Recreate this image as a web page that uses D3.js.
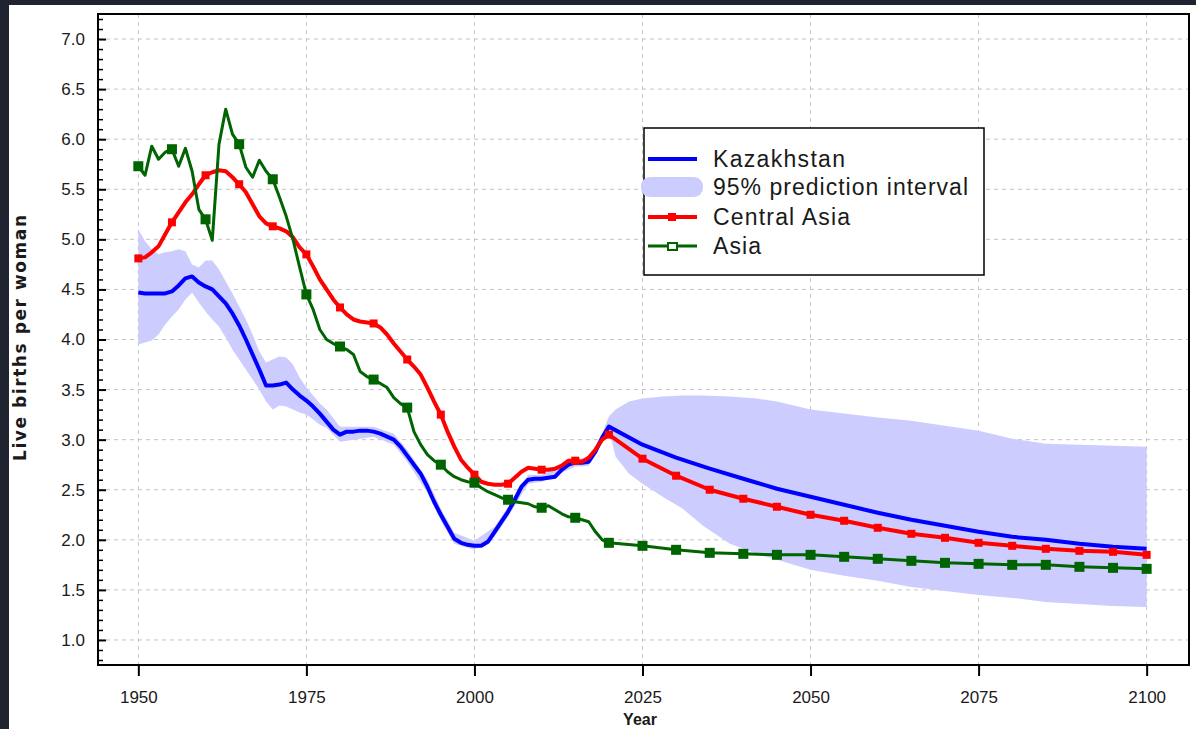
<!DOCTYPE html>
<html>
<head>
<meta charset="utf-8">
<script src="https://cdn.jsdelivr.net/npm/d3@7"></script>
<style>
  body { margin: 0; background: #1f2430; }
  svg { display: block; }
  text { font-family: "Liberation Sans", Arial, sans-serif; }
</style>
</head>
<body>
<div id="chart"></div>
<script>

// years: annual up to 2020, then every 5 years
var years = [1950,1951,1952,1953,1954,1955,1956,1957,1958,1959,1960,1961,1962,1963,1964,1965,1966,1967,1968,1969,
  1970,1971,1972,1973,1974,1975,1976,1977,1978,1979,1980,1981,1982,1983,1984,1985,1986,1987,1988,1989,
  1990,1991,1992,1993,1994,1995,1996,1997,1998,1999,2000,2001,2002,2003,2004,2005,2006,2007,2008,2009,
  2010,2011,2012,2013,2014,2015,2016,2017,2018,2019,2020,
  2025,2030,2035,2040,2045,2050,2055,2060,2065,2070,2075,2080,2085,2090,2095,2100];

var kazakhstan = [4.47,4.46,4.46,4.46,4.46,4.48,4.54,4.61,4.63,4.57,4.53,4.50,4.43,4.36,4.26,4.14,4.00,3.85,3.70,3.54,
  3.54,3.55,3.57,3.50,3.44,3.39,3.33,3.26,3.18,3.10,3.05,3.08,3.08,3.09,3.09,3.08,3.06,3.03,3.00,2.93,
  2.84,2.75,2.66,2.53,2.38,2.25,2.13,2.01,1.97,1.95,1.94,1.94,1.98,2.08,2.18,2.28,2.40,2.53,2.60,2.61,
  2.61,2.62,2.63,2.70,2.75,2.77,2.77,2.78,2.88,3.02,3.13,
  2.95,2.82,2.71,2.61,2.51,2.43,2.35,2.27,2.20,2.14,2.08,2.03,2.00,1.96,1.93,1.91];

var centralAsia = [4.81,4.82,4.87,4.93,5.05,5.17,5.27,5.37,5.45,5.55,5.64,5.67,5.69,5.68,5.62,5.55,5.47,5.35,5.23,5.16,
  5.13,5.11,5.08,5.02,4.92,4.85,4.73,4.60,4.50,4.40,4.32,4.25,4.20,4.18,4.17,4.16,4.12,4.05,3.96,3.88,
  3.80,3.73,3.65,3.52,3.38,3.25,3.08,2.93,2.80,2.72,2.65,2.58,2.56,2.55,2.55,2.56,2.62,2.68,2.72,2.71,
  2.70,2.70,2.71,2.74,2.79,2.79,2.78,2.82,2.90,3.00,3.05,
  2.81,2.64,2.50,2.41,2.33,2.25,2.19,2.12,2.06,2.02,1.97,1.94,1.91,1.89,1.88,1.85];

var asia = [5.73,5.64,5.93,5.80,5.87,5.90,5.73,5.91,5.68,5.30,5.20,4.99,5.95,6.30,6.05,5.95,5.72,5.62,5.79,5.68,
  5.60,5.42,5.23,5.00,4.72,4.45,4.30,4.10,4.00,3.96,3.93,3.90,3.85,3.68,3.63,3.60,3.56,3.52,3.42,3.36,
  3.32,3.08,2.95,2.85,2.79,2.75,2.68,2.63,2.60,2.58,2.57,2.52,2.48,2.45,2.42,2.40,2.38,2.37,2.36,2.33,
  2.32,2.34,2.30,2.26,2.23,2.22,2.20,2.18,2.08,2.00,1.97,
  1.94,1.90,1.87,1.86,1.85,1.85,1.83,1.81,1.79,1.77,1.76,1.75,1.75,1.73,1.72,1.71];

// 95% prediction interval for Kazakhstan
var bandYears = [1950,1951,1952,1953,1954,1955,1956,1957,1958,1959,1960,1961,1962,1963,1964,1965,1966,1967,1968,1969,
  1970,1971,1972,1973,1974,1975,1976,1977,1978,1980,1985,1988,1990,1993,1995,1997,2000,2003,2005,2008,
  2010,2013,2015,2017,2019,2020,2021,2023,2025,2028,2031,2034,2038,2042,2045,2050,2055,2060,2065,2070,
  2075,2080,2085,2090,2095,2100];
var bandLow = [3.95,3.97,3.99,4.05,4.15,4.23,4.30,4.40,4.47,4.37,4.28,4.20,4.13,4.02,3.90,3.80,3.70,3.60,3.50,3.38,
  3.30,3.34,3.33,3.30,3.27,3.25,3.20,3.15,3.12,2.98,3.03,2.95,2.78,2.47,2.19,1.96,1.90,2.03,2.23,2.56,
  2.58,2.67,2.73,2.74,2.98,3.10,2.83,2.66,2.56,2.43,2.31,2.14,1.96,1.86,1.80,1.70,1.64,1.59,1.53,1.49,
  1.45,1.42,1.38,1.36,1.34,1.33];
var bandHigh = [5.10,4.98,4.90,4.85,4.87,4.88,4.90,4.88,4.75,4.72,4.79,4.79,4.70,4.58,4.46,4.33,4.20,4.05,3.88,3.77,
  3.80,3.83,3.82,3.75,3.62,3.52,3.44,3.36,3.30,3.13,3.13,3.06,2.90,2.60,2.31,2.07,1.99,2.13,2.33,2.65,
  2.65,2.74,2.81,2.82,3.06,3.23,3.30,3.38,3.41,3.43,3.44,3.44,3.43,3.41,3.38,3.30,3.26,3.22,3.19,3.14,
  3.09,3.01,2.96,2.95,2.94,2.93];

var markerYears = [1950,1955,1960,1965,1970,1975,1980,1985,1990,1995,2000,2005,2010,2015,2020,
  2025,2030,2035,2040,2045,2050,2055,2060,2065,2070,2075,2080,2085,2090,2095,2100];

var xTicks = [1950,1975,2000,2025,2050,2075,2100];
var yTicks = [1.0,1.5,2.0,2.5,3.0,3.5,4.0,4.5,5.0,5.5,6.0,6.5,7.0];
var yMinor = [0.8,0.9,1.1,1.2,1.3,1.4,1.6,1.7,1.8,1.9,2.1,2.2,2.3,2.4,2.6,2.7,2.8,2.9,3.1,3.2,3.3,3.4,
  3.6,3.7,3.8,3.9,4.1,4.2,4.3,4.4,4.6,4.7,4.8,4.9,5.1,5.2,5.3,5.4,5.6,5.7,5.8,5.9,6.1,6.2,6.3,6.4,
  6.6,6.7,6.8,6.9,7.1,7.2];

var legendItems = ["Kazakhstan", "95% prediction interval", "Central Asia", "Asia"];


var width = 1196, height = 729;
var pLeft = 98, pRight = 1189, pTop = 14, pBottom = 665;

var svg = d3.select("#chart").append("svg")
    .attr("width", width)
    .attr("height", height);

svg.append("rect").attr("x", 9).attr("y", 5).attr("width", width - 9).attr("height", height - 5)
    .attr("fill", "#fff");

var x = d3.scaleLinear().domain([1944, 2106.3]).range([pLeft, pRight]);
var y = d3.scaleLinear().domain([0.75, 7.25]).range([pBottom, pTop]);

// grid
svg.append("g").selectAll("line").data(xTicks).enter().append("line")
    .attr("x1", function(d){ return x(d); }).attr("x2", function(d){ return x(d); })
    .attr("y1", pTop).attr("y2", pBottom)
    .attr("stroke", "#c4c4c4").attr("stroke-dasharray", "4,4");
svg.append("g").selectAll("line").data(yTicks).enter().append("line")
    .attr("y1", function(d){ return y(d); }).attr("y2", function(d){ return y(d); })
    .attr("x1", pLeft).attr("x2", pRight)
    .attr("stroke", "#c4c4c4").attr("stroke-dasharray", "4,4");

// prediction band
var bandData = bandYears.map(function(yr, i){ return {year: yr, lo: bandLow[i], hi: bandHigh[i]}; });
svg.append("path")
    .datum(bandData)
    .attr("fill", "#ccccff")
    .attr("d", d3.area()
        .x(function(d){ return x(d.year); })
        .y0(function(d){ return y(d.lo); })
        .y1(function(d){ return y(d.hi); }));

var line = d3.line()
    .x(function(d){ return x(d[0]); })
    .y(function(d){ return y(d[1]); });

function series(vals){
  return years.map(function(yr, i){ return [yr, vals[i]]; });
}

svg.append("path").datum(series(kazakhstan))
    .attr("fill", "none").attr("stroke", "#0000ff").attr("stroke-width", 4)
    .attr("stroke-linejoin", "round").attr("d", line);

svg.append("path").datum(series(centralAsia))
    .attr("fill", "none").attr("stroke", "#ff0000").attr("stroke-width", 4)
    .attr("stroke-linejoin", "round").attr("d", line);
svg.append("g").selectAll("rect")
    .data(series(centralAsia).filter(function(d){ return markerYears.indexOf(d[0]) >= 0; }))
    .enter().append("rect")
    .attr("x", function(d){ return x(d[0]) - 4; }).attr("y", function(d){ return y(d[1]) - 4; })
    .attr("width", 8).attr("height", 8).attr("fill", "#ff0000");

svg.append("path").datum(series(asia))
    .attr("fill", "none").attr("stroke", "#006400").attr("stroke-width", 3)
    .attr("stroke-linejoin", "round").attr("d", line);
svg.append("g").selectAll("rect")
    .data(series(asia).filter(function(d){ return markerYears.indexOf(d[0]) >= 0; }))
    .enter().append("rect")
    .attr("x", function(d){ return x(d[0]) - 5; }).attr("y", function(d){ return y(d[1]) - 5; })
    .attr("width", 10).attr("height", 10).attr("fill", "#006400");

// axes
var yAxis = svg.append("g").attr("transform", "translate(" + pLeft + ",0)")
    .call(d3.axisLeft(y).tickValues(yTicks).tickSize(-8).tickPadding(13)
        .tickFormat(d3.format(".1f")));
yAxis.select(".domain").remove();
yAxis.selectAll("line").attr("stroke", "#000").attr("stroke-width", 2);
yAxis.selectAll("text").attr("font-size", 17).attr("fill", "#1a1a1a")
    .style("font-family", "'Liberation Sans', Arial, sans-serif");

var yMinorAxis = svg.append("g").attr("transform", "translate(" + pLeft + ",0)")
    .call(d3.axisLeft(y).tickValues(yMinor).tickSize(-5).tickFormat(""));
yMinorAxis.select(".domain").remove();
yMinorAxis.selectAll("line").attr("stroke", "#000").attr("stroke-width", 1.5);

var xAxis = svg.append("g").attr("transform", "translate(0," + pBottom + ")")
    .call(d3.axisBottom(x).tickValues(xTicks).tickSize(11).tickPadding(15).tickFormat(d3.format("d")));
xAxis.select(".domain").remove();
xAxis.selectAll("line").attr("stroke", "#000").attr("stroke-width", 2);
xAxis.selectAll("text").attr("font-size", 17).attr("fill", "#1a1a1a")
    .style("font-family", "'Liberation Sans', Arial, sans-serif");

// frame
svg.append("rect").attr("x", pLeft).attr("y", pTop)
    .attr("width", pRight - pLeft).attr("height", pBottom - pTop)
    .attr("fill", "none").attr("stroke", "#000").attr("stroke-width", 2);

// axis titles
svg.append("text").attr("x", 640).attr("y", 725).attr("text-anchor", "middle")
    .attr("font-size", 16).attr("font-weight", "bold").attr("fill", "#1a1a1a").text("Year");
svg.append("text").attr("transform", "translate(26,338) rotate(-90)").attr("text-anchor", "middle")
    .attr("font-size", 17).attr("font-weight", "bold").attr("fill", "#1a1a1a")
    .style("font-family", "'DejaVu Sans', Verdana, sans-serif")
    .attr("textLength", 246).attr("lengthAdjust", "spacing")
    .text("Live births per woman");

// legend
var lg = svg.append("g");
lg.append("rect").attr("x", 644).attr("y", 128).attr("width", 340).attr("height", 147)
    .attr("fill", "#fff").attr("stroke", "#000").attr("stroke-width", 1.5);
var rowY = [159, 187, 217, 246];
var rowW = [132, 255, 137, 48];
lg.selectAll("text").data(legendItems).enter().append("text")
    .attr("x", 713).attr("y", function(d, i){ return rowY[i] + 8; })
    .attr("font-size", 23).attr("fill", "#1a1a1a")
    .attr("textLength", function(d, i){ return rowW[i]; }).attr("lengthAdjust", "spacing")
    .text(function(d){ return d; });
lg.append("line").attr("x1", 648).attr("x2", 697).attr("y1", rowY[0]).attr("y2", rowY[0])
    .attr("stroke", "#0000ff").attr("stroke-width", 4);
lg.append("rect").attr("x", 641).attr("y", rowY[1] - 10).attr("width", 62).attr("height", 20)
    .attr("rx", 9).attr("fill", "#ccccff");
lg.append("line").attr("x1", 648).attr("x2", 697).attr("y1", rowY[2]).attr("y2", rowY[2])
    .attr("stroke", "#ff0000").attr("stroke-width", 4);
lg.append("rect").attr("x", 668).attr("y", rowY[2] - 4).attr("width", 8).attr("height", 8).attr("fill", "#ff0000");
lg.append("line").attr("x1", 648).attr("x2", 697).attr("y1", rowY[3]).attr("y2", rowY[3])
    .attr("stroke", "#006400").attr("stroke-width", 3);
lg.append("rect").attr("x", 668).attr("y", rowY[3] - 3).attr("width", 9).attr("height", 7)
    .attr("fill", "#fff").attr("stroke", "#006400").attr("stroke-width", 2);

</script>
</body>
</html>
